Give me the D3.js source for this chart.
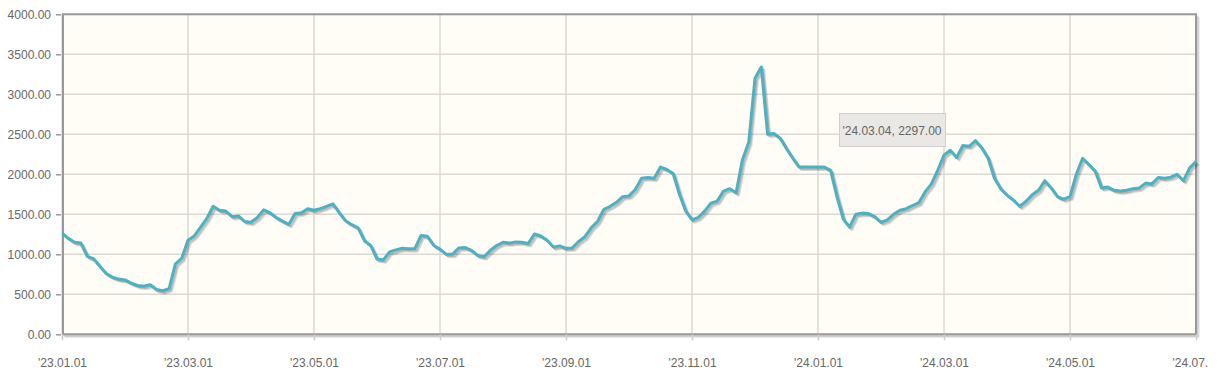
<!DOCTYPE html>
<html>
<head>
<meta charset="utf-8">
<script src="https://cdn.jsdelivr.net/npm/d3@7"></script>
<style>
  html, body { margin: 0; padding: 0; background: #ffffff; }
  svg { display: block; }
</style>
</head>
<body>
<div id="chart"></div>
<script>
// ---- data ----
// the last label is shown cut short in the reference
const tickLabels = ["'23.01.01", "'23.03.01", "'23.05.01", "'23.07.01", "'23.09.01",
                    "'23.11.01", "'24.01.01", "'24.03.01", "'24.05.01", "'24.07."];
const pointsPerTick = 20;
const yTicks = [0, 500, 1000, 1500, 2000, 2500, 3000, 3500, 4000];
const values = [
  1265, 1200, 1150, 1140, 975, 945, 850, 760, 715, 690,
  680, 640, 610, 600, 620, 560, 545, 570, 880, 950,
  1175, 1230, 1340, 1450, 1600, 1550, 1540, 1470, 1480, 1410,
  1400, 1460, 1555, 1520, 1460, 1415, 1375, 1510, 1520, 1570,
  1550, 1570, 1600, 1630, 1520, 1420, 1370, 1330, 1170, 1110,
  940, 930, 1030, 1055, 1075, 1070, 1070, 1235, 1225, 1110,
  1065, 1000, 1000, 1080, 1085, 1050, 985, 970, 1050, 1110,
  1150, 1140, 1155, 1150, 1135, 1255, 1230, 1175, 1090, 1105,
  1075, 1080, 1160, 1220, 1330, 1410, 1560, 1600, 1650, 1720,
  1730, 1810, 1950, 1960, 1950, 2090, 2060, 2010, 1750, 1540,
  1430, 1460, 1540, 1640, 1665, 1790, 1820, 1770, 2180, 2400,
  3200, 3340, 2500, 2510, 2450, 2320, 2200, 2090, 2090, 2090,
  2090, 2090, 2050, 1720, 1440, 1340, 1500, 1515, 1510, 1470,
  1400, 1430, 1500, 1550, 1570, 1610, 1645, 1780, 1880, 2050,
  2240, 2300, 2210, 2360, 2350, 2420, 2330, 2200, 1950, 1820,
  1740, 1680, 1600, 1660, 1745, 1800, 1920, 1830, 1720, 1690,
  1720, 2000, 2200, 2120, 2040, 1830, 1840, 1800, 1790, 1800,
  1820, 1830, 1890, 1880, 1960, 1950, 1965, 2000, 1920, 2080,
  2160
];
const tooltipText = "'24.03.04, 2297.00";

// ---- layout ----
const W = 1218, H = 383;
const plot = { left: 62, right: 1196, top: 14.3, bottom: 334.3 };
const seriesColor = "#4bb2c5";
const font = "'Liberation Sans', Arial, sans-serif";

const svg = d3.select("#chart").append("svg")
  .attr("width", W).attr("height", H)
  .style("font-family", font);

const x = d3.scaleLinear().domain([0, values.length - 1]).range([plot.left, plot.right]);
const y = d3.scaleLinear().domain([0, 4000]).range([plot.bottom, plot.top]);

const tickIdx = tickLabels.map((d, i) => i * pointsPerTick);

// background
svg.append("rect")
  .attr("x", plot.left).attr("y", plot.top)
  .attr("width", plot.right - plot.left).attr("height", plot.bottom - plot.top)
  .attr("fill", "#fffdf6");

// grid lines
const grid = svg.append("g").attr("stroke", "#dcd9d2").attr("stroke-width", 1.5);
grid.selectAll("line.h").data(yTicks).join("line")
  .attr("x1", plot.left).attr("x2", plot.right)
  .attr("y1", d => y(d)).attr("y2", d => y(d));
grid.selectAll("line.v").data(tickIdx).join("line")
  .attr("x1", d => x(d)).attr("x2", d => x(d))
  .attr("y1", plot.top).attr("y2", plot.bottom);

// border shadow
const shadowG = svg.append("g").attr("fill", "none");
for (let k = 1; k <= 3; k++) {
  shadowG.append("path")
    .attr("d", `M${plot.right + k * 0.9},${plot.top + k * 0.9}V${plot.bottom + k * 0.9}H${plot.left + k * 0.9}`)
    .attr("stroke", "rgba(0,0,0,0.09)").attr("stroke-width", 2);
}
// border
svg.append("rect")
  .attr("x", plot.left + 1).attr("y", plot.top)
  .attr("width", plot.right - plot.left - 1).attr("height", plot.bottom - plot.top)
  .attr("fill", "none").attr("stroke", "#999999").attr("stroke-width", 2);

// axes
const yAxis = d3.axisLeft(y).tickValues(yTicks).tickFormat(d3.format(".2f"))
  .tickSize(5).tickPadding(5);
const yg = svg.append("g").attr("transform", `translate(${plot.left - 1},0)`).call(yAxis);
yg.select(".domain").remove();
yg.selectAll(".tick line").attr("stroke", "#999999").attr("stroke-width", 1.5);
yg.selectAll(".tick text").attr("fill", "#666666").style("font-size", "12px")
  .style("font-family", font);

const xAxis = d3.axisBottom(x).tickValues(tickIdx)
  .tickFormat((d, i) => tickLabels[i]).tickSize(6).tickPadding(18);
const xg = svg.append("g").attr("transform", `translate(0,${plot.bottom})`).call(xAxis);
xg.select(".domain").remove();
xg.selectAll(".tick line").attr("stroke", "#cccccc").attr("stroke-width", 1.5);
xg.selectAll(".tick text").attr("fill", "#666666").style("font-size", "12px")
  .style("font-family", font);
// the shortened last label keeps the start position of a full label
xg.selectAll(".tick text").filter((d, i) => i === tickLabels.length - 1)
  .attr("text-anchor", "start").attr("x", -24);

// line with shadow
const line = d3.line().x((d, i) => x(i)).y(d => y(d)).curve(d3.curveLinear);
svg.append("clipPath").attr("id", "clip").append("rect")
  .attr("x", plot.left).attr("y", plot.top - 5)
  .attr("width", plot.right - plot.left + 6).attr("height", plot.bottom - plot.top + 10);
const lg = svg.append("g").attr("clip-path", "url(#clip)");
for (let k = 1; k <= 3; k++) {
  lg.append("path").datum(values)
    .attr("d", line)
    .attr("transform", `translate(${k * 0.9},${k * 0.9})`)
    .attr("fill", "none").attr("stroke", "rgba(0,0,0,0.13)")
    .attr("stroke-width", 2.5).attr("stroke-linejoin", "round");
}
lg.append("path").datum(values)
  .attr("d", line)
  .attr("fill", "none").attr("stroke", seriesColor)
  .attr("stroke-width", 3).attr("stroke-linejoin", "round");

// tooltip
const tip = svg.append("g").attr("transform", "translate(839,113)");
tip.append("rect").attr("x", 0.5).attr("y", 0.5).attr("width", 106).attr("height", 33)
  .attr("fill", "#e9e8e4").attr("stroke", "#cfcfcf").attr("stroke-width", 1);
tip.append("text").attr("x", 53).attr("y", 21.5).attr("text-anchor", "middle")
  .attr("fill", "#666666").style("font-size", "12px").text(tooltipText);
</script>
</body>
</html>
